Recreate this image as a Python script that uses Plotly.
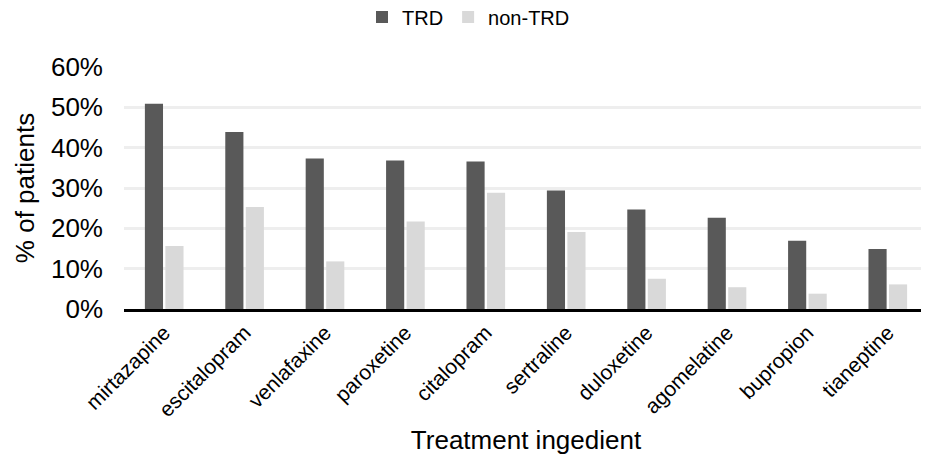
import plotly.graph_objects as go

categories = ["mirtazapine", "escitalopram", "venlafaxine", "paroxetine", "citalopram",
              "sertraline", "duloxetine", "agomelatine", "bupropion", "tianeptine"]
trd = [50.9, 43.9, 37.3, 36.8, 36.6, 29.4, 24.7, 22.6, 16.9, 14.9]
non_trd = [15.6, 25.3, 11.8, 21.7, 28.8, 19.1, 7.5, 5.4, 3.8, 6.1]
y_ticks = [0, 10, 20, 30, 40, 50, 60]
y_tick_labels = ["0%", "10%", "20%", "30%", "40%", "50%", "60%"]

FONT = "Liberation Sans"

fig = go.Figure()
fig.add_trace(go.Bar(x=categories, y=trd, name="TRD", marker=dict(color="#595959", line=dict(width=0))))
fig.add_trace(go.Bar(x=categories, y=non_trd, name="non-TRD", marker=dict(color="#d9d9d9", line=dict(width=0))))

# page body has an 8px default margin, so the figure is sized/offset to compensate
fig.update_layout(
    width=921, height=447, autosize=False,
    margin=dict(l=116, r=1, t=59, b=146, autoexpand=False),
    paper_bgcolor="white", plot_bgcolor="white",
    barmode="group", bargap=0.49, bargroupgap=0.115,
    font=dict(family=FONT, color="#000000"),
    legend=dict(orientation="h", x=0.5, xref="container", xanchor="center",
                y=1.207, yanchor="middle", font=dict(size=20, family=FONT),
                traceorder="normal", itemwidth=30),
    xaxis=dict(
        automargin=False,
        tickangle=-45, tickfont=dict(size=21, family=FONT),
        showline=True, linecolor="#000000", linewidth=3,
        ticks="", showgrid=False,
        title=dict(text="Treatment ingedient", font=dict(size=26, family=FONT), standoff=11),
    ),
    yaxis=dict(
        automargin=False,
        range=[0, 60], tickmode="array", tickvals=y_ticks, ticktext=y_tick_labels,
        tickfont=dict(size=26, family=FONT), ticklabelstandoff=20,
        showgrid=True, gridcolor="#eeeeee", gridwidth=3,
        zeroline=False, ticks="", ticklen=0,
        title=dict(text="% of patients", font=dict(size=26, family=FONT), standoff=8),
    ),
)

fig.write_html("out.html")
